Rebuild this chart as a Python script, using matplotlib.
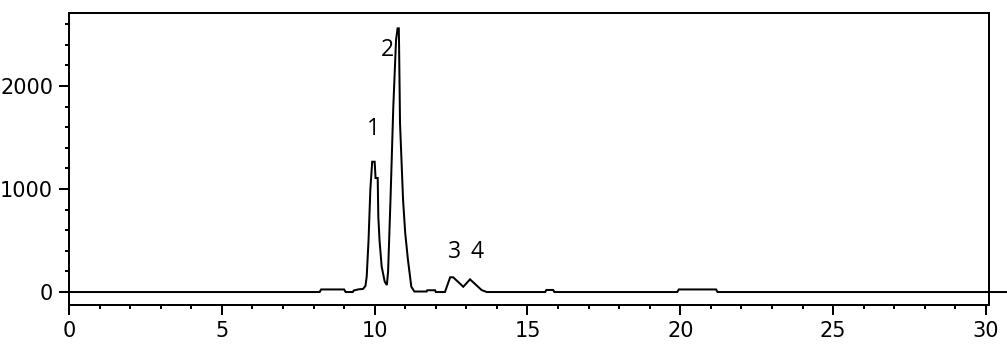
import matplotlib
matplotlib.use("Agg")
import matplotlib.pyplot as plt
from matplotlib.ticker import MultipleLocator

# Chromatogram trace (retention time, detector signal)
time = [0, 8.2, 8.25, 9.0, 9.05, 9.28, 9.32, 9.47, 9.62, 9.70, 9.74, 9.80, 9.86, 9.92,
        10.0, 10.03, 10.10, 10.12, 10.16, 10.23, 10.33, 10.40, 10.44, 10.52, 10.61,
        10.70, 10.75, 10.79, 10.80, 10.83, 10.93, 11.0, 11.09, 11.2, 11.3, 11.7, 11.72,
        11.98, 12.0, 12.3, 12.47, 12.57, 12.90, 13.12, 13.50, 13.67, 15.58, 15.62,
        15.84, 15.88, 19.9, 19.95, 21.17, 21.22, 30.7]
signal = [0, 0, 25, 25, 0, 0, 15, 26, 30, 60, 150, 500, 1000, 1265,
          1265, 1107, 1107, 730, 500, 246, 100, 68, 200, 912, 1796,
          2447, 2560, 2560, 2380, 1640, 893, 573, 311, 51, 5, 5, 17,
          17, 0, 0, 143, 143, 51, 123, 19, 0, 0, 20,
          20, 0, 0, 25, 25, 0, 0]

# Peak labels
peak_names = ["1", "2", "3", "4"]
peak_x = [9.95, 10.42, 12.62, 13.35]
peak_y = [1578, 2345, 391, 391]

x_ticks = [0, 5, 10, 15, 20, 25, 30]
y_ticks = [0, 1000, 2000]

W, H = 1007, 347
fig = plt.figure(figsize=(W / 100, H / 100), dpi=100)
ax = fig.add_axes([69 / W, 1 - 305 / H, (989 - 69) / W, (305 - 13) / H])

lw = 1.44
ax.plot(time, signal, color="black", lw=lw, clip_on=False, solid_joinstyle="miter")

for n, px, py in zip(peak_names, peak_x, peak_y):
    ax.text(px, py, n, ha="center", va="center", fontsize=16.5, family="Open Sans")

ax.set_xlim(0, 30.1)
ax.set_ylim(-126, 2709)
ax.set_xticks(x_ticks)
ax.set_yticks(y_ticks)
ax.xaxis.set_minor_locator(MultipleLocator(1))
ax.yaxis.set_minor_locator(MultipleLocator(200))
ax.tick_params(which="major", length=7.5, width=lw, labelsize=15, pad=4, direction="out")
ax.tick_params(which="minor", length=3, width=lw, direction="out")
for s in ax.spines.values():
    s.set_linewidth(lw)
for lab in ax.get_xticklabels() + ax.get_yticklabels():
    lab.set_family("DejaVu Sans")

fig.savefig("out.png", dpi=100)
